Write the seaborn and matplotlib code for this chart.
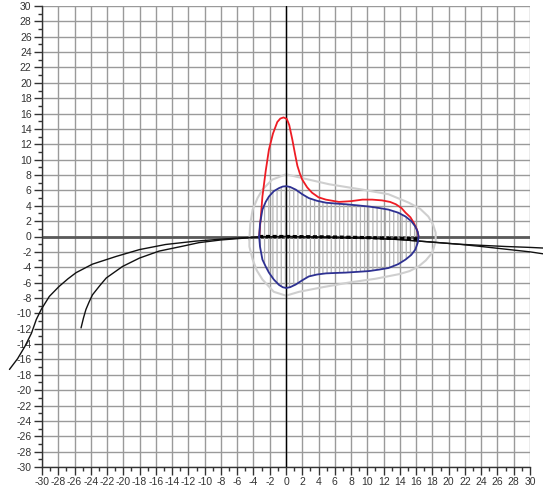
import matplotlib
matplotlib.use("Agg")
import matplotlib.pyplot as plt
import seaborn as sns
import pandas as pd
import numpy as np

# ---- data ----
tick_values = list(range(-30, 31, 2))

red_x = [-3.3, -3.1, -2.9, -2.5, -2.1, -1.6, -1.07, -0.7, -0.3, 0.1, 0.4, 0.78, 1.1, 1.4, 1.7, 2.0, 2.6, 3.2, 4.0, 4.9, 6.5, 8.0, 9.4, 10.6, 11.8, 12.8, 13.5, 14.2, 14.7, 15.3, 15.7, 16.1, 16.3]
red_y = [0.0, 2.5, 5.2, 8.5, 11.3, 13.4, 14.9, 15.35, 15.5, 15.3, 14.5, 12.6, 10.8, 9.2, 8.2, 7.4, 6.4, 5.7, 5.1, 4.8, 4.5, 4.6, 4.8, 4.8, 4.7, 4.5, 4.2, 3.7, 3.1, 2.5, 1.8, 0.9, 0.0]

blue_x = [-3.3, -3.2, -2.9, -2.5, -2.1, -1.5, -0.86, -0.4, 0.0, 0.5, 1.2, 2.0, 2.8, 3.8, 4.9, 6.0, 7.3, 8.8, 10.2, 11.5, 12.6, 13.8, 14.7, 15.4, 15.9, 16.2, 16.3]
blue_upper = [0.0, 1.6, 3.5, 4.5, 5.2, 5.9, 6.3, 6.5, 6.55, 6.45, 6.1, 5.5, 5.0, 4.65, 4.4, 4.3, 4.2, 4.05, 3.9, 3.7, 3.5, 3.1, 2.6, 2.0, 1.3, 0.6, 0.0]
blue_lower = [0.0, -1.3, -3.0, -3.9, -4.7, -5.6, -6.3, -6.6, -6.7, -6.6, -6.25, -5.7, -5.2, -4.95, -4.8, -4.75, -4.7, -4.6, -4.5, -4.3, -4.1, -3.6, -3.0, -2.4, -1.7, -0.8, 0.0]

gray_x = [-4.5, -4.4, -4.1, -3.5, -2.9, -1.7, 0.0, 2.0, 5.3, 9.4, 12.6, 15.1, 16.5, 17.5, 18.1, 18.4, 18.4, 18.0, 17.2, 16.3, 15.2, 13.9, 11.0, 7.7, 4.5, 1.6, 0.0, -1.5, -2.9, -3.6, -4.1, -4.5, -4.5]
gray_y = [-0.4, 1.6, 3.5, 5.0, 6.1, 7.4, 8.1, 7.6, 6.8, 6.1, 5.5, 4.4, 3.6, 2.6, 1.5, 0.5, -0.6, -2.1, -3.1, -3.9, -4.5, -4.9, -5.5, -6.0, -6.6, -7.2, -7.7, -7.2, -5.6, -4.4, -3.0, -1.3, -0.4]

dash_x = [-3.3, 0.0, 5.0, 10.0, 14.0, 16.3]
dash_y = [0.0, 0.0, -0.05, -0.15, -0.25, -0.3]

curveA_x = [-34.0, -33.0, -32.1, -31.3, -30.7, -30.1, -29.1, -27.9, -26.8, -25.8, -23.8, -20.9, -18.0, -14.8, -11.1, -8.0, -5.0, -3.0, 0.0, 5.0, 10.0, 14.0, 18.8, 21.2, 24.0, 27.0, 30.0, 31.6]
curveA_y = [-17.3, -15.9, -14.3, -12.6, -10.8, -9.5, -7.8, -6.5, -5.5, -4.7, -3.6, -2.6, -1.7, -1.04, -0.6, -0.35, -0.15, -0.05, 0.0, -0.1, -0.2, -0.4, -0.8, -1.0, -1.15, -1.3, -1.42, -1.5]

curveB_x = [-25.2, -24.9, -24.6, -24.2, -23.8, -22.9, -22.1, -20.1, -18.0, -15.6, -12.7, -10.7, -8.0, -5.0, -3.0, 0.0, 5.0, 10.0, 14.0, 18.8, 21.2, 24.0, 27.0, 30.0, 31.6]
curveB_y = [-11.9, -10.6, -9.5, -8.5, -7.6, -6.4, -5.4, -3.9, -2.8, -1.9, -1.26, -0.8, -0.45, -0.2, -0.05, 0.0, -0.1, -0.2, -0.4, -0.8, -1.0, -1.3, -1.65, -2.0, -2.25]

# ---- figure ----
sns.set_style("white")
plt.rcParams['font.family'] = ['Liberation Sans', 'DejaVu Sans']
plt.rcParams['hatch.linewidth'] = 0.9

fig = plt.figure(figsize=(5.43, 4.93), dpi=100)
ax = fig.add_axes([42/543, 26/493, (530-42)/543, (467-6)/493])
ax.set_xlim(-30, 30)
ax.set_ylim(-30, 30)

# grid
for v in tick_values:
    ax.axvline(v, color='#9a9a9a', lw=1.0, zorder=0)
    ax.axhline(v, color='#9a9a9a', lw=1.0, zorder=0)
ax.axhline(0, color='#5a5a5a', lw=2.0, zorder=1)
ax.axvline(0, color='black', lw=1.0, zorder=5)

# hatched interior
ax.fill_between(blue_x, blue_lower, blue_upper, facecolor='none',
                edgecolor='#b5b5b5', hatch='||||', lw=0, zorder=2)

def draw(xs, ys, color, lw, z, ls='-', clip=True):
    df = pd.DataFrame({'x': xs, 'y': ys})
    sns.lineplot(data=df, x='x', y='y', sort=False, estimator=None, ax=ax,
                 color=color, lw=lw, linestyle=ls, zorder=z, clip_on=clip)

draw(gray_x, gray_y, '#cfcfcf', 1.5, 3)
draw(curveA_x, curveA_y, '#111111', 1.0, 4, clip=False)
draw(curveB_x, curveB_y, '#111111', 1.0, 4, clip=False)
draw(dash_x, dash_y, '#000000', 2.3, 6, ls=(0, (1.3, 0.8)))
draw(red_x, red_y, '#ee1c24', 1.3, 7)
blue_loop_x = blue_x + blue_x[::-1]
blue_loop_y = blue_upper + blue_lower[::-1]
draw(blue_loop_x, blue_loop_y, '#2e3192', 1.3, 8)

ax.set_xlabel('')
ax.set_ylabel('')

# ticks
ax.set_xticks(tick_values)
ax.set_yticks(tick_values)
ax.set_xticks(range(-29, 30, 2), minor=True)
ax.set_yticks(range(-29, 30, 2), minor=True)
ax.set_xticklabels([str(v) for v in tick_values])
ax.set_yticklabels([str(v) for v in tick_values])
ax.tick_params(which='major', direction='out', length=6, width=1, color='#333333',
               labelsize=7.5, labelcolor='#333333', pad=1.5,
               left=True, bottom=True)
ax.tick_params(which='minor', direction='out', length=3, width=1, color='#333333',
               left=True, bottom=True)
ax.tick_params(axis='x', pad=1.5)

for s in ['top', 'right']:
    ax.spines[s].set_visible(False)
for s in ['left', 'bottom']:
    ax.spines[s].set_color('#333333')
    ax.spines[s].set_linewidth(1.0)

fig.savefig('out.png', dpi=100)
